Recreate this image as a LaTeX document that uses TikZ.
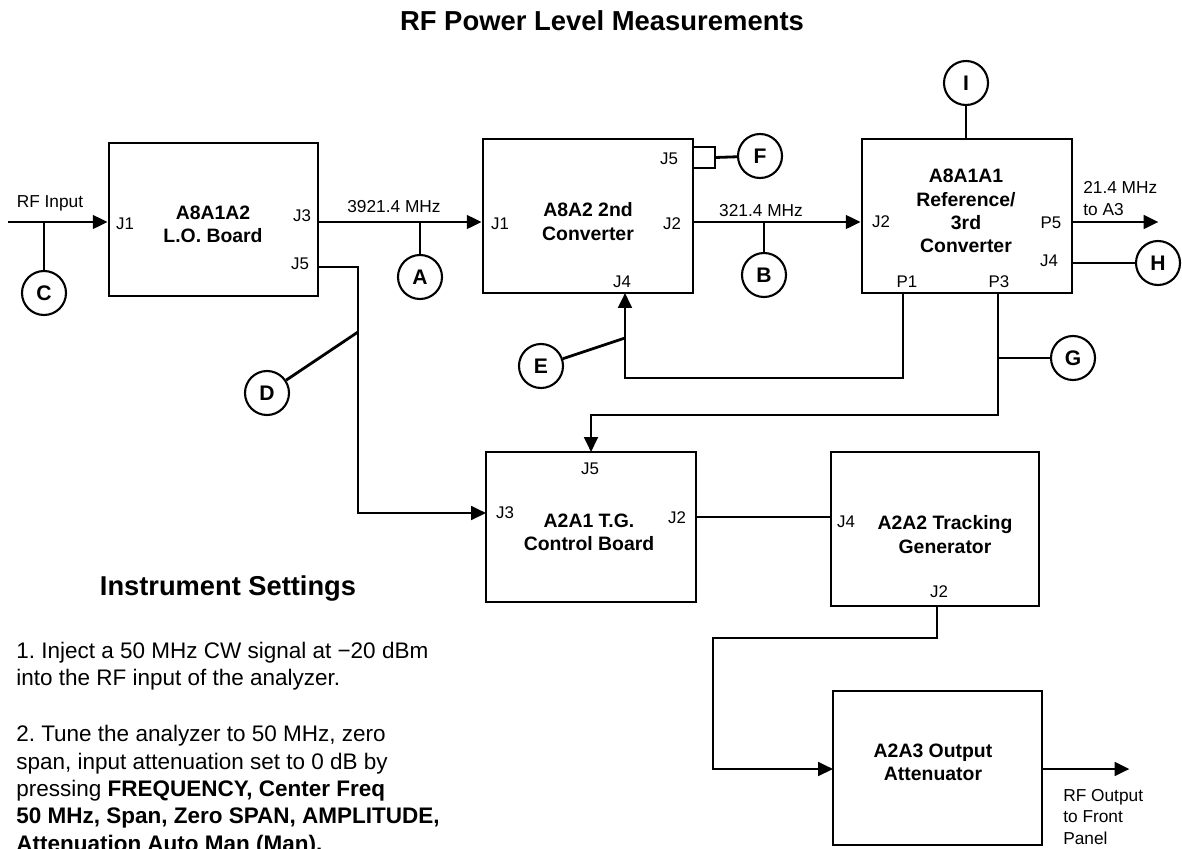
\documentclass[tikz,border=0pt]{standalone}
\usepackage{fontspec}
\setmainfont{Liberation Sans}
\usetikzlibrary{arrows.meta}
\frenchspacing

\begin{document}
\begin{tikzpicture}[x=0.025cm,y=-0.025cm,
  blk/.style={draw,line width=2pt,minimum width=5.25cm,minimum height=3.85cm,inner sep=0pt},
  ttl/.style={font=\bfseries\fontsize{13.8}{16.5}\selectfont,align=center,inner sep=0pt},
  port/.style={font=\fontsize{12}{14}\selectfont,inner sep=0pt},
  probe/.style={draw,circle,line width=1.5pt,minimum size=1.1cm,inner sep=0pt,
    font=\bfseries\fontsize{15}{18}\selectfont},
  wlbl/.style={font=\fontsize{12.3}{15.6}\selectfont,inner sep=0pt},
  wire/.style={line width=2pt},
  sig/.style={wire,-{Triangle[length=3.7mm,width=3.4mm]}}]
  \useasboundingbox (0,0) rectangle (1182,848);
  \node[font=\bfseries\fontsize{19.5}{23}\selectfont] (title) at (602,21) {RF Power Level Measurements};

  % blocks
  \node[blk,minimum width=5.225cm,minimum height=3.825cm] (lo) at (213.5,219.5) {};
  \node[blk] (cv2) at (588,216) {};
  \node[blk] (cv3) at (967,216) {};
  \node[blk,minimum height=3.75cm] (tgc) at (591,527) {};
  \node[blk,minimum width=5.2cm] (trk) at (935,529) {};
  \node[blk,minimum width=5.225cm] (att) at (937.5,768) {};

  \node[ttl] (lot) at (213,224.5) {A8A1A2\\L.O. Board};
  \node[ttl] (cv2t) at (588,221.5) {A8A2 2nd\\Converter};
  \node[ttl] (cv3t) at (966,211) {A8A1A1\\Reference/\\3rd\\Converter};
  \node[ttl] (tgct) at (589,532.5) {A2A1 T.G.\\Control Board};
  \node[ttl] (trkt) at (945,534.5) {A2A2 Tracking\\Generator};
  \node[ttl] (attt) at (933,762) {A2A3 Output\\Attenuator};

  % connector names
  \node[port] (loj1) at (125,224) {J1};
  \node[port] (loj3) at (302,216) {J3};
  \node[port] (loj5l) at (300,264) {J5};
  \node[port] (cvj1) at (500,224) {J1};
  \node[port] (cvj2) at (672,224) {J2};
  \node[port] (cvj5) at (669,159) {J5};
  \node[port] (cvj4l) at (622,282) {J4};
  \node[port] (rfj2) at (881,222) {J2};
  \node[port] (rfp5) at (1051,223) {P5};
  \node[port] (rfj4) at (1049,261) {J4};
  \node[port] (rfp1) at (907,282) {P1};
  \node[port] (rfp3) at (999,282) {P3};
  \node[port] (tgj5l) at (590,469) {J5};
  \node[port] (tgj3l) at (505,513) {J3};
  \node[port] (tgj2l) at (677,518) {J2};
  \node[port] (trj4l) at (846,522) {J4};
  \node[port] (trj2l) at (939,592) {J2};

  % test points
  \node[probe] (pa) at (420,277) {A};
  \node[probe] (pb) at (764,275) {B};
  \node[probe] (pc) at (44,293) {C};
  \node[probe] (pd) at (267,393) {D};
  \node[probe] (pe) at (541,366) {E};
  \node[probe] (pf) at (760,156) {F};
  \node[probe] (pg) at (1073,358) {G};
  \node[probe] (ph) at (1158,263) {H};
  \node[probe] (pi) at (966,83) {I};

  \coordinate (rfin) at (8,222);
  \coordinate (loj5) at (318,267);
  \coordinate (dtap) at (358,332);
  \coordinate (tgj3) at (486,513);
  \coordinate (cvj4) at (625,293);
  \coordinate (etap) at (625,338);
  \coordinate (p1) at (903,293);
  \coordinate (p1bend) at (903,378);
  \coordinate (p3) at (998,293);
  \coordinate (p3bend) at (998,415);
  \coordinate (tgj5) at (591,452);
  \coordinate (tgj2) at (696,517);
  \coordinate (trj2) at (937,606);
  \coordinate (trbend) at (713,638);
  \coordinate (atin) at (833,769);
  \coordinate (fstub) at (715,157.5);

  % signal path
  \draw[sig] (rfin) -- (rfin -| lo.west);
  \draw[wire] (pc) -- (pc |- rfin);
  \draw[sig] (lo.east |- rfin) -- (cv2.west |- rfin);
  \draw[wire] (pa) -- (pa |- rfin);
  \draw[sig] (cv2.east |- rfin) -- (cv3.west |- rfin);
  \draw[wire] (pb) -- (pb |- rfin);
  \draw[sig] (cv3.east |- rfin) -- ++(85,0);
  \draw[wire] (cv3.east |- ph) -- (ph);
  \draw[wire] (pi) -- (pi |- cv3.north);
  \draw[wire] (693,147) -- (715,147) -- (715,168) -- (693,168);
  \draw[wire] (fstub) -- (pf);
  \draw[sig] (loj5) -| (dtap) |- (tgj3);
  \draw[wire] (pd) -- (dtap);
  \draw[sig] (p1) -- (p1bend) -| (cvj4);
  \draw[wire] (pe) -- (etap);
  \draw[sig] (p3) -- (p3bend) -| (tgj5);
  \draw[wire] (pg) -- (pg -| p3);
  \draw[wire] (tgj2) -- (tgj2 -| trk.west);
  \draw[sig] (trj2) |- (trbend) |- (atin);
  \draw[sig] (att.east |- atin) -- ++(86,0);

  \node[wlbl] (rflbl) at (50,203) {RF Input};
  \node[wlbl] (f1lbl) at (394,207) {3921.4 MHz};
  \node[wlbl] (f2lbl) at (761,211) {321.4 MHz};
  \node[wlbl,align=left,anchor=west] (f3lbl) at (1083,199) {21.4 MHz\\to A3};
  \node[wlbl,align=left,anchor=west] (outlbl) at (1063,817) {RF Output\\to Front\\Panel};

  % settings
  \node[font=\bfseries\fontsize{19.4}{23}\selectfont] (sethd) at (228,588) {Instrument Settings};
  \node[anchor=north west,inner sep=0pt,align=left,font=\fontsize{16}{19.4}\selectfont] (steps) at (16,642)
    {1. Inject a 50 MHz CW signal at −20 dBm\\
     into the RF input of the analyzer.\\[20.5pt]
     2. Tune the analyzer to 50 MHz, zero\\
     span, input attenuation set to 0 dB by\\
     pressing \textbf{FREQUENCY, Center Freq}\\
     \textbf{50 MHz, Span, Zero SPAN, AMPLITUDE,}\\
     \textbf{Attenuation Auto Man (Man).}};
\end{tikzpicture}
\end{document}
